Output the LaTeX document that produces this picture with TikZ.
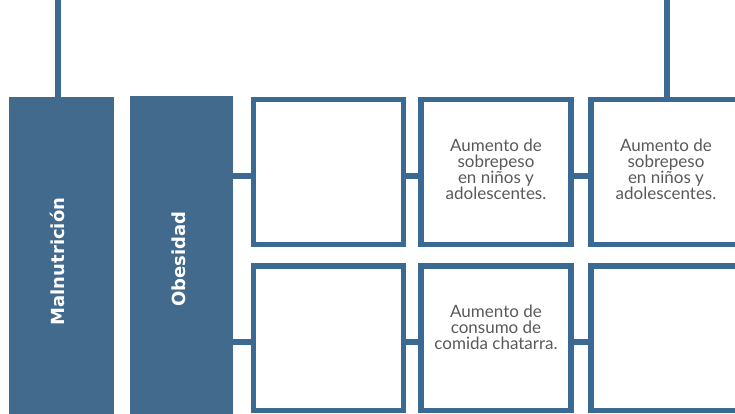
\documentclass[tikz,border=0pt]{standalone}
\usepackage{fontspec}
\setmainfont{Lato}
\newfontfamily\titlefam{DejaVu Sans}
\definecolor{boxblue}{HTML}{416A8D}
\definecolor{lineblue}{HTML}{3A6A94}
\definecolor{textgray}{HTML}{595959}
\begin{document}
\begin{tikzpicture}[x=1pt,y=-1pt,
  darkbox/.style={fill=boxblue, draw=none, inner sep=0pt, outer sep=0pt, anchor=north west},
  titletext/.style={text=white, font=\titlefam\bfseries\fontsize{18}{18}\selectfont, rotate=90, inner sep=0pt},
  framebox/.style={draw=lineblue, line width=5.5pt, minimum width=150pt, minimum height=144.5pt, outer sep=0pt, inner sep=0pt},
  conn/.style={draw=lineblue, line width=6pt},
  bodytext/.style={text=textgray, font=\fontsize{17}{16}\selectfont, align=center, inner sep=0pt}]
\useasboundingbox (0,0) rectangle (735,414);
% dark title boxes
\node[darkbox, minimum width=105pt, minimum height=317pt] (mal) at (9,97) {};
\node[darkbox, minimum width=103pt, minimum height=318pt] (obes) at (130,96) {};
\node[titletext] (malt) at ([xshift=-4pt,yshift=-6pt]mal.center) {Malnutrición};
\node[titletext] (obest) at ([xshift=-3pt,yshift=-4pt]obes.center) {Obesidad};
% frame boxes
\node[framebox] (a1) at (328.5,172) {};
\node[framebox] (a2) at (496,172) {};
\node[framebox] (a3) at (666,172) {};
\node[framebox] (b1) at (328.5,338) {};
\node[framebox] (b2) at (496,338) {};
\node[framebox] (b3) at (666,338) {};
% texts
\node[bodytext] (ta2) at ([yshift=3pt]a2.center) {Aumento de\\sobrepeso\\en niños y\\adolescentes.};
\node[bodytext] (ta3) at ([yshift=3pt]a3.center) {Aumento de\\sobrepeso\\en niños y\\adolescentes.};
\node[bodytext] (tb2) at ([yshift=11pt]b2.center) {Aumento de\\consumo de\\comida chatarra.};
% connectors
\coordinate (ca1) at ([yshift=-4pt]a1.west);
\coordinate (ca2) at ([yshift=-4pt]a2.west);
\coordinate (ca3) at ([yshift=-4pt]a3.west);
\coordinate (cb1) at ([yshift=-4pt]b1.west);
\coordinate (cb2) at ([yshift=-4pt]b2.west);
\coordinate (cb3) at ([yshift=-4pt]b3.west);
\draw[conn] (ca1 -| obes.east) -- (ca1);
\draw[conn] (ca1 -| a1.east) -- (ca2);
\draw[conn] (ca2 -| a2.east) -- (ca3);
\draw[conn] (cb1 -| obes.east) -- (cb1);
\draw[conn] (cb1 -| b1.east) -- (cb2);
\draw[conn] (cb2 -| b2.east) -- (cb3);
% vertical lines from above
\coordinate (topl) at (58,0);
\coordinate (topr) at (667,0);
\draw[conn] (topl) -- (topl |- mal.north);
\draw[conn] (topr) -- (topr |- a3.north);
\end{tikzpicture}
\end{document}
